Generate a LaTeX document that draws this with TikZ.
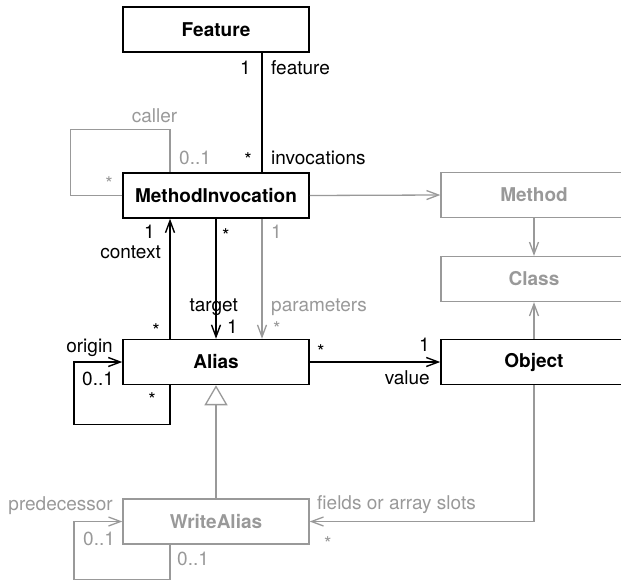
\documentclass[tikz,border=0pt]{standalone}
\usepackage{fontspec}
\setmainfont{TeX Gyre Heros}
\usetikzlibrary{arrows.meta}
\definecolor{umlgray}{HTML}{999999}
\begin{document}
\begin{tikzpicture}[x=1pt,y=-1pt,
  cls/.style={draw, line width=1.5pt, minimum width=186pt, minimum height=45pt, inner sep=0pt,
    font=\fontsize{19}{22}\selectfont\bfseries},
  ghost/.style={cls, draw=umlgray, text=umlgray, line width=1.3pt},
  lbl/.style={inner sep=0pt, font=\fontsize{19}{22}\selectfont, text height=13pt, text depth=0pt},
  glbl/.style={lbl, text=umlgray},
  assoc/.style={line width=1.4pt},
  gassoc/.style={line width=1.3pt, draw=umlgray},
  nav/.style={assoc, -{Straight Barb[length=12pt,width=9pt]}},
  gnav/.style={gassoc, -{Straight Barb[length=12pt,width=9pt]}},
  gen/.style={gassoc, -{Triangle[open,length=20pt,width=23pt,fill=white]}}
]
\useasboundingbox (0,0) rectangle (621,581);
\clip (0,0) rectangle (621,581);

% classes
\node[cls] (Feature) at (216,29.5) {Feature};
\node[cls] (MI) at (216,195.5) {MethodInvocation};
\node[cls] (Alias) at (216,362) {Alias};
\node[ghost] (WriteAlias) at (216,521.5) {WriteAlias};
\node[ghost] (Method) at (534,195) {Method};
\node[ghost] (Class) at (534,279) {Class};
\node[cls] (Object) at (534,362) {Object};

% connectors
\draw[assoc] ([xshift=46pt]Feature.south) -- ([xshift=46pt]MI.north);
\draw[gassoc] (MI.west) -- ++(-52,0) -- ++(0,-66) -| ([xshift=-46pt]MI.north);
\draw[gnav] (MI.east) -- (Method.west);
\draw[gnav] (Method.south) -- (Class.north);
\draw[gnav] (Object.north) -- (Class.south);
\draw[nav] ([xshift=-46pt]Alias.north) -- ([xshift=-46pt]MI.south);
\draw[nav] (MI.south) -- (Alias.north);
\draw[gnav] ([xshift=46pt]MI.south) -- ([xshift=46pt]Alias.north);
\draw[nav] (Alias.east) -- (Object.west);
\draw[nav] ([xshift=-46pt]Alias.south) -- ++(0,39) -- ++(-96,0) |- (Alias.west);
\draw[gen] (WriteAlias.north) -- (Alias.south);
\draw[gnav] (Object.south) |- (WriteAlias.east);
\draw[gnav] ([xshift=-46pt]WriteAlias.south) -- ++(0,35) -- ++(-96,0) |- (WriteAlias.west);

% labels
\node[lbl, anchor=east] (l1) at (251,68) {1};
\node[lbl, anchor=west] (l2) at (271,68) {feature};
\node[glbl] (l3) at (154.5,116) {caller};
\node[glbl, anchor=west] (l4) at (179,158) {0..1};
\node[lbl, anchor=east] (l5) at (252,159.5) {*};
\node[lbl, anchor=west] (l6) at (271,157.5) {invocations};
\node[glbl, anchor=east] (l7) at (113,183.5) {*};
\node[lbl, anchor=east] (l8) at (155,232) {1};
\node[lbl, anchor=east] (l9) at (161,252) {context};
\node[lbl, anchor=east] (l10) at (160,330.5) {*};
\node[lbl, anchor=west] (l11) at (222,235.5) {*};
\node[lbl, anchor=east] (l12) at (238,305) {target};
\node[lbl, anchor=west] (l13) at (227,327) {1};
\node[glbl, anchor=west] (l14) at (271,232) {1};
\node[glbl, anchor=west] (l15) at (271,305) {parameters};
\node[glbl, anchor=west] (l16) at (273,329) {*};
\node[lbl, anchor=west] (l17) at (317,351.5) {*};
\node[lbl, anchor=east] (l18) at (430,345) {1};
\node[lbl, anchor=east] (l19) at (430,378) {value};
\node[lbl, anchor=east] (l20) at (113,346) {origin};
\node[lbl, anchor=west] (l21) at (82,379) {0..1};
\node[lbl, anchor=east] (l22) at (156,400) {*};
\node[glbl, anchor=east] (l23) at (113,504) {predecessor};
\node[glbl, anchor=west] (l24) at (83,539) {0..1};
\node[glbl, anchor=west] (l25) at (177,559) {0..1};
\node[glbl, anchor=west] (l26) at (317,503) {fields or array slots};
\node[glbl, anchor=west] (l27) at (324,543.5) {*};
\end{tikzpicture}
\end{document}
